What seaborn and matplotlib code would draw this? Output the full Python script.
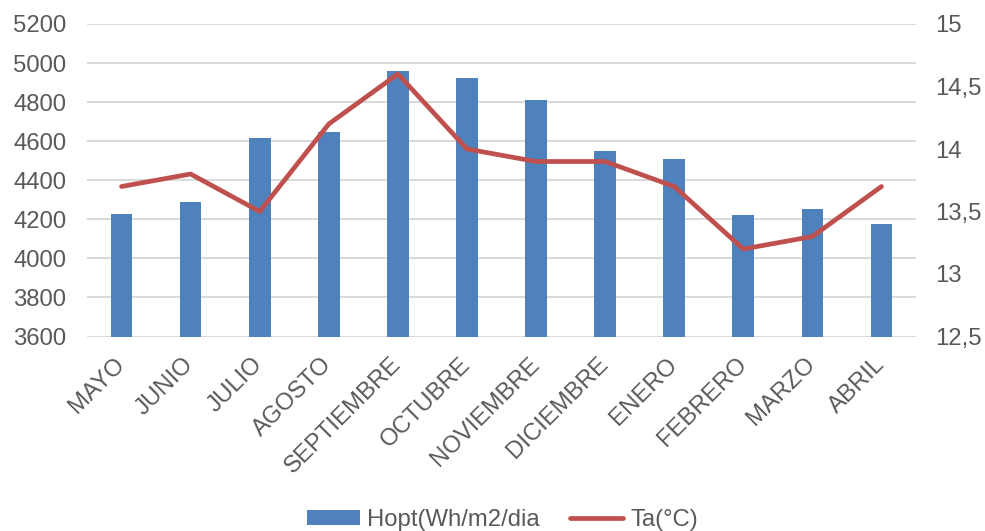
import matplotlib
matplotlib.use("Agg")
import matplotlib.pyplot as plt
from matplotlib.ticker import FuncFormatter, MultipleLocator
from matplotlib.transforms import ScaledTranslation
import numpy as np
import pandas as pd
import seaborn as sns

# Monthly optimal irradiation and mean air temperature
months = ["MAYO", "JUNIO", "JULIO", "AGOSTO", "SEPTIEMBRE", "OCTUBRE",
          "NOVIEMBRE", "DICIEMBRE", "ENERO", "FEBRERO", "MARZO", "ABRIL"]
hopt = [4228, 4288, 4616, 4647, 4958, 4922, 4813, 4548, 4510, 4223, 4255, 4178]
ta = [13.7, 13.8, 13.5, 14.2, 14.6, 14.0, 13.9, 13.9, 13.7, 13.2, 13.3, 13.7]

bar_label = "Hopt(Wh/m2/dia"
line_label = "Ta(°C)"

df = pd.DataFrame({"mes": months, "hopt": hopt, "ta": ta})
df["pos"] = np.arange(len(df))

sns.set_theme(style="white")
plt.rcParams["font.family"] = ["Liberation Sans", "DejaVu Sans"]

text_color = "#595959"
grid_color = "#d9d9d9"
fs = 17.2

fig = plt.figure(figsize=(9.85, 5.31), dpi=100)
ax = fig.add_axes([87 / 985, 1 - 336.5 / 531, 829 / 985, (336.5 - 24) / 531])

sns.barplot(data=df, x="mes", y="hopt", color="#4f81bd", saturation=1,
            width=0.314, ax=ax, label=bar_label, linewidth=0)
ax.set_ylim(3600, 5200)
ax.yaxis.set_major_locator(MultipleLocator(200))
ax.set_xlim(-0.5, len(months) - 0.5)
ax.grid(axis="y", color=grid_color, linewidth=1.4)
ax.set_axisbelow(True)
for s in ax.spines.values():
    s.set_visible(False)
ax.tick_params(axis="both", length=0, labelcolor=text_color, labelsize=fs)
ax.tick_params(axis="y", pad=15)
ax.set_xlabel("")
ax.set_ylabel("")
ax.set_xticks(df["pos"])
ax.set_xticklabels(months, rotation=45, ha="right", va="top",
                   rotation_mode="anchor")
ax.tick_params(axis="x", pad=10)
shift = ScaledTranslation(-8 / 100, -3 / 100, fig.dpi_scale_trans)
for lab in ax.get_xticklabels():
    lab.set_transform(lab.get_transform() + shift)

ax2 = ax.twinx()
sns.lineplot(data=df, x="pos", y="ta", color="#c0504d", linewidth=3.4,
             ax=ax2, label=line_label, legend=False,
             solid_capstyle="round", solid_joinstyle="round")
ax2.set_ylim(12.5, 15)
ax2.yaxis.set_major_locator(MultipleLocator(0.5))
ax2.yaxis.set_major_formatter(
    FuncFormatter(lambda v, _: f"{v:g}".replace(".", ",")))
for s in ax2.spines.values():
    s.set_visible(False)
ax2.tick_params(axis="y", length=0, labelcolor=text_color, labelsize=fs, pad=14)
ax2.set_xlabel("")
ax2.set_ylabel("")
ax2.grid(False)

h1, l1 = ax.get_legend_handles_labels()
h2, l2 = ax2.get_legend_handles_labels()
if ax.get_legend() is not None:
    ax.get_legend().remove()
leg = fig.legend(h1 + h2, l1 + l2, loc="center",
                 bbox_to_anchor=(0.5 + 10 / 985, 1 - 520 / 531),
                 ncol=2, frameon=False, fontsize=fs, handlelength=2.2,
                 handleheight=0.55, handletextpad=0.3, columnspacing=1.3)
for t in leg.get_texts():
    t.set_color(text_color)

fig.savefig("out.png", dpi=100)
